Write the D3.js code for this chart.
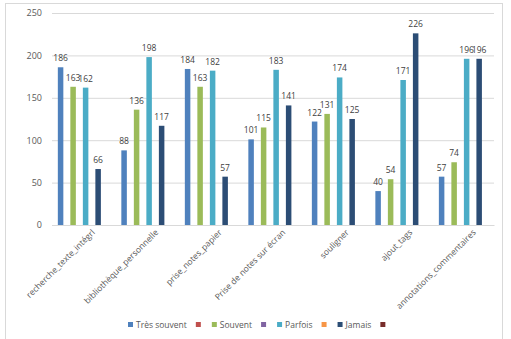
<!DOCTYPE html>
<html><head><meta charset="utf-8">
<script src="https://cdn.jsdelivr.net/npm/d3@7"></script>
<style>body{margin:0;background:#fff}text{font-family:"Open Sans","DejaVu Sans",sans-serif}</style>
</head><body><svg id="c" width="511" height="339"></svg>
<script>
const categories = ["recherche_texte_intégrl","bibliothèque_personnelle","prise_notes_papier","Prise de notes sur écran","souligner","ajout_tags","annotations_commentaires"];
const seriesNames = ["Très souvent","","Souvent","","Parfois","","Jamais",""];
const seriesColors = ["#4f81bd","#c0504d","#9bbb59","#8064a2","#4bacc6","#f79646","#2c4d75","#772c2a"];
const tresSouvent = [186,88,184,101,122,40,57];
const souvent = [163,136,163,115,131,54,74];
const parfois = [162,198,182,183,174,171,196];
const jamais = [66,117,57,141,125,226,196];
const seriesValues = [tresSouvent,null,souvent,null,parfois,null,jamais,null];
const yTicks = [0,50,100,150,200,250];

const svg = d3.select("#c");
svg.append("rect").attr("x",5.5).attr("y",3.5).attr("width",497).attr("height",340).attr("fill","#fff").attr("stroke","#d9d9d9");

const x0 = d3.scaleBand().domain(categories).range([52,494]).paddingInner(0.2).paddingOuter(0.08);
const x1 = d3.scaleBand().domain(d3.range(8)).range([0,x0.bandwidth()]).padding(0.12);
const y = d3.scaleLinear().domain([0,250]).range([225,13]);

const gy = svg.append("g").attr("transform","translate(52,0)")
  .call(d3.axisLeft(y).tickValues(yTicks).tickSize(-442).tickPadding(10));
gy.select(".domain").remove();
gy.selectAll(".tick line").attr("stroke","#d9d9d9");
gy.selectAll(".tick text").attr("fill","#595959").attr("font-size","9px");

const gx = svg.append("g").attr("transform","translate(0,225)")
  .call(d3.axisBottom(x0).tickSize(0).tickPadding(7));
gx.select(".domain").attr("stroke","#d9d9d9");
gx.selectAll(".tick text").attr("fill","#595959").attr("font-size","8.5px")
  .attr("text-anchor","end").attr("transform","translate(5,0) rotate(-45)").attr("dy","0.5em");

const groups = svg.append("g").selectAll("g").data(categories).join("g")
  .attr("transform",d=>`translate(${x0(d)},0)`);
seriesValues.forEach((vals,si)=>{
  if(!vals) return;
  groups.append("rect").attr("x",x1(si)).attr("width",x1.bandwidth())
    .attr("y",(d,i)=>y(vals[i])).attr("height",(d,i)=>225-y(vals[i]))
    .attr("fill",seriesColors[si]);
  groups.append("text").attr("x",x1(si)+x1.bandwidth()/2).attr("y",(d,i)=>y(vals[i])-6)
    .attr("text-anchor","middle").attr("font-size","8.5px").attr("fill","#404040")
    .text((d,i)=>vals[i]);
});

// legend
const leg = svg.append("g").attr("transform","translate(128,325)");
let lx = 0;
seriesNames.forEach((n,i)=>{
  leg.append("rect").attr("x",lx).attr("y",-3).attr("width",5).attr("height",5).attr("fill",seriesColors[i]);
  lx += 8;
  if(n){
    const t = leg.append("text").attr("x",lx).attr("y",0).attr("dy","0.35em").attr("font-size","8.5px").attr("fill","#595959").text(n);
    lx += t.node().getComputedTextLength() + 9;
  } else {
    lx += 8;
  }
});
</script></body></html>
